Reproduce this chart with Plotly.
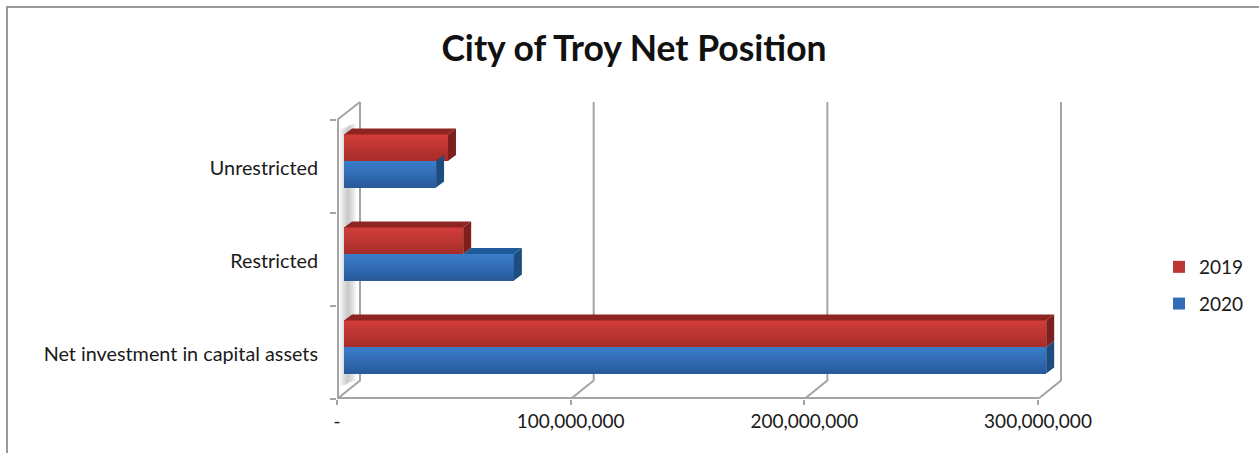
import plotly.graph_objects as go

categories = ["Net investment in capital assets", "Restricted", "Unrestricted"]
values_2019 = [300500000, 51000000, 44500000]
values_2020 = [300500000, 72700000, 39400000]
x_ticks = [0, 100000000, 200000000, 300000000]
x_labels = ["-", "100,000,000", "200,000,000", "300,000,000"]

# pixel geometry of the pseudo-3D frame
L, R, T, B = 337, 1070, 100, 399
PX = 1e8 / 233.67          # dollars per pixel
BAND = 93.0                # pixels per category band
UY = 1 / BAND              # y units per pixel
W_DX, W_DY = 23 * PX, 18.5 * UY   # wall depth
B_DX, B_DY = 8 * PX, 6 * UY       # bar depth
BASE = 7 * PX              # bar start
BAR_H = 26.5 * UY
BAR_LOW = 25.5 * UY
GRID = "#a4a4a4"
STRIPS = 12


def mix(a, b, t):
    return "rgb(%d,%d,%d)" % tuple(round(a[i] + (b[i] - a[i]) * t) for i in range(3))


series = [
    dict(name="2020", vals=values_2020, lo=0, top=(58, 125, 203), bot=(40, 90, 155),
         cap="#1f5a99", side="#1d4c80", rank=2),
    dict(name="2019", vals=values_2019, lo=1, top=(210, 62, 58), bot=(165, 44, 42),
         cap="#8f2523", side="#7d1f1d", rank=1),
]

fig = go.Figure()
cy = list(range(len(categories)))
for s in series:
    y0 = [c + BAR_LOW + s["lo"] * BAR_H for c in cy]
    h = BAR_H / STRIPS
    for k in range(STRIPS):
        col = mix(s["bot"], s["top"], (k + 0.5) / STRIPS)
        fig.add_bar(
            orientation="h", x=s["vals"], y=[v + (k + 0.5) * h for v in y0],
            base=[BASE] * len(cy), width=h * 1.08,
            marker=dict(color=col, line_width=0),
            name=s["name"], legendgroup=s["name"], legendrank=s["rank"],
            showlegend=k == STRIPS // 2, hoverinfo="skip",
        )

for s in series:
    other = values_2019 if s["name"] == "2020" else None
    for c, v in zip(cy, s["vals"]):
        y_b = c + BAR_LOW + s["lo"] * BAR_H
        y_t = y_b + BAR_H
        end = v + BASE
        start = BASE
        visible = True
        if other is not None:
            start = other[c] + BASE
            visible = v > other[c]
        if visible:
            fig.add_scatter(
                x=[start, end, end + B_DX, start + B_DX, start],
                y=[y_t, y_t, y_t + B_DY, y_t + B_DY, y_t],
                mode="lines", line_width=0, fill="toself", fillcolor=s["cap"],
                showlegend=False, hoverinfo="skip",
            )
        fig.add_scatter(
            x=[end, end + B_DX, end + B_DX, end, end],
            y=[y_b, y_b + B_DY, y_t + B_DY, y_t, y_b],
            mode="lines", line_width=0, fill="toself", fillcolor=s["side"],
            showlegend=False, hoverinfo="skip",
        )

top_u = (B - T - 2) * UY
shapes = []
# left wall shading
for k in range(6):
    ins = k * 1.6
    path_x = [(3 + ins) * PX, (19 - ins) * PX]
    shapes.append(dict(
        type="path", xref="x", yref="y", layer="below",
        path=f"M {path_x[0]} {0.14} L {path_x[1]} {0.2} L {path_x[1]} {2.96} L {path_x[0]} {2.9} Z",
        fillcolor="rgba(120,120,120,0.09)", line_width=0,
    ))
# grid walls
for t in x_ticks:
    shapes.append(dict(
        type="path", xref="x", yref="y", layer="below",
        path=f"M {t} 0 L {t + W_DX} {W_DY} L {t + W_DX} {top_u}",
        line=dict(color=GRID, width=2), fillcolor="rgba(0,0,0,0)",
    ))
# wall top edge and floor front edge
shapes.append(dict(
    type="line", xref="x", yref="y", layer="below", x0=0, y0=3, x1=W_DX, y1=top_u,
    line=dict(color=GRID, width=2),
))
shapes.append(dict(
    type="line", xref="x", yref="y", layer="below", x0=x_ticks[0], y0=0, x1=x_ticks[-1], y1=0,
    line=dict(color=GRID, width=4),
))
shapes.append(dict(
    type="line", xref="x", yref="y", layer="below", x0=0, x1=0, y0=0, y1=3,
    line=dict(color=GRID, width=4),
))
# chart frame
fx = lambda p: (p - L) / (R - L)
fy = lambda p: (B - p) / (B - T)
shapes.append(dict(
    type="path", xref="paper", yref="paper", layer="below",
    path=f"M {fx(7)} {fy(453)} L {fx(7)} {fy(7)} L {fx(1259)} {fy(7)}",
    line=dict(color="#9a9a9a", width=2), fillcolor="rgba(0,0,0,0)",
))

fig.update_layout(
    width=1259, height=453,
    margin=dict(l=L, r=1259 - R, t=T, b=453 - B, pad=0, autoexpand=False),
    paper_bgcolor="white", plot_bgcolor="white",
    barmode="overlay", bargap=0,
    shapes=shapes,
    font=dict(family="Lato, sans-serif", color="#1a1a1a", size=19),
    title=dict(text="<b>City of Troy Net Position</b>", x=634 / 1259, xanchor="center",
               xref="container", y=1 - 49 / 453, yanchor="middle",
               font=dict(family="Lato, sans-serif", size=35.5, color="#111111")),
    legend=dict(x=fx(1159), y=fy(248), xanchor="left", yanchor="top",
                traceorder="grouped", tracegroupgap=9,
                itemclick=False, itemdoubleclick=False, bgcolor="rgba(0,0,0,0)",
                font=dict(size=19), itemwidth=30),
    xaxis=dict(range=[0, (R - L) * PX], tickvals=x_ticks, ticktext=x_labels,
               ticks="outside", ticklen=5, tickwidth=1.5, tickcolor=GRID,
               showgrid=False, zeroline=False, showline=False,
               tickfont=dict(size=19)),
    yaxis=dict(range=[0, (B - T) * UY], tickvals=[c + 0.5 - 1.5 * UY for c in cy], ticktext=categories,
               ticks="", ticklabelstandoff=18, showgrid=False, zeroline=False,
               showline=False,
               minor=dict(tickvals=[0, 1, 2, 3], ticks="outside", ticklen=6, tickwidth=1.5, tickcolor=GRID,
                          showgrid=False),
               tickfont=dict(size=19.8)),
)
fig.write_html("out.html", config=dict(displayModeBar=False),
               post_script="document.body.style.margin='0';document.body.style.overflow='hidden';")
